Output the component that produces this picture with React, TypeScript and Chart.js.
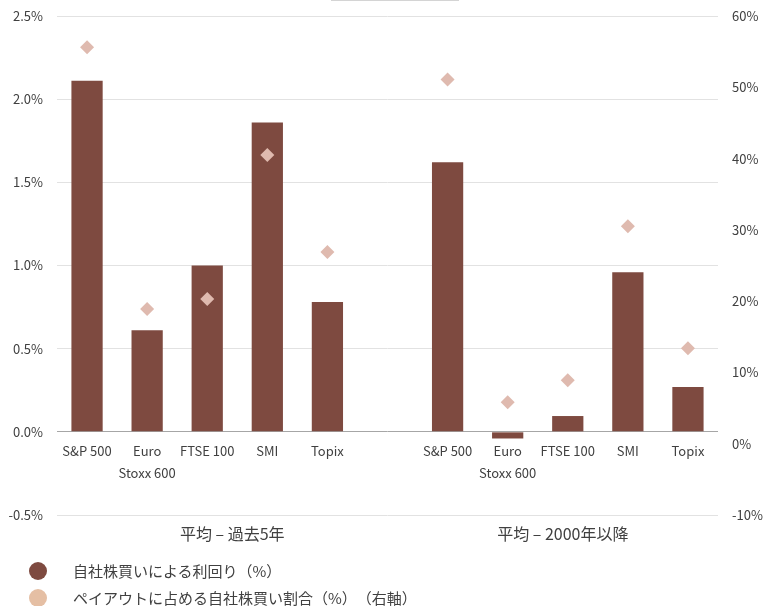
import React, { useEffect, useRef } from "react";
import { Chart, registerables } from "chart.js";

Chart.register(...registerables);

const categories: (string | string[])[] = [
  "S&P 500", ["Euro", "Stoxx 600"], "FTSE 100", "SMI", "Topix", "",
  "S&P 500", ["Euro", "Stoxx 600"], "FTSE 100", "SMI", "Topix",
];
const buybackYield: (number | null)[] = [2.11, 0.61, 1.0, 1.86, 0.78, null, 1.62, -0.04, 0.095, 0.96, 0.27];
const buybackShare: (number | null)[] = [55.6, 18.9, 20.3, 40.5, 26.9, null, 51.1, 5.8, 8.9, 30.5, 13.4];
const groupLabels = ["平均 – 過去5年", "平均 – 2000年以降"];
const groupRanges = [[0, 5], [6, 10]];
const legendLabels = ["自社株買いによる利回り（%）", "ペイアウトに占める自社株買い割合（%）（右軸）"];

const BAR = "#7e4a40";
const DIAMOND = "#dfbaaf";
const LEGEND2 = "#e5bfa4";
const FONT = '"Noto Sans CJK JP", "Noto Sans", sans-serif';
const TEXT = "#404040";

const labelPlugin = {
  id: "customLabels",
  afterDraw(chart: any) {
    const { ctx, scales, chartArea } = chart;
    const x = scales.x;
    const y = scales.y;
    const zeroY = y.getPixelForValue(0);
    ctx.save();
    ctx.fillStyle = TEXT;
    ctx.textAlign = "center";
    ctx.textBaseline = "middle";
    ctx.font = `13px ${FONT}`;
    categories.forEach((c, i) => {
      const lines = Array.isArray(c) ? c : [c];
      lines.forEach((ln, k) => {
        if (ln) ctx.fillText(ln, x.getPixelForValue(i), zeroY + 19 + k * 22);
      });
    });
    ctx.font = `16px ${FONT}`;
    groupLabels.forEach((g, i) => {
      const [a, b] = groupRanges[i];
      const cx = (x.getPixelForValue(a) + x.getPixelForValue(b)) / 2 - 5;
      ctx.fillText(g, cx, chartArea.bottom + 19);
    });
    ctx.restore();
  },
};

export default function App() {
  const ref = useRef<HTMLCanvasElement>(null);
  useEffect(() => {
    if (!ref.current) return;
    const chart = new Chart(ref.current, {
      type: "bar",
      data: {
        labels: categories as any,
        datasets: [
          {
            type: "line",
            label: legendLabels[1],
            data: buybackShare,
            yAxisID: "y1",
            showLine: false,
            pointStyle: "rectRot",
            pointRadius: 7,
            pointBackgroundColor: DIAMOND,
            pointBorderColor: DIAMOND,
            pointBorderWidth: 0,
            backgroundColor: DIAMOND,
            order: 0,
          } as any,
          {
            type: "bar",
            label: legendLabels[0],
            data: buybackYield,
            yAxisID: "y",
            backgroundColor: BAR,
            categoryPercentage: 1,
            barPercentage: 0.52,
            order: 1,
          },
        ],
      },
      options: {
        responsive: false,
        animation: false,
        layout: { autoPadding: false, padding: { top: 16, bottom: 91, left: 0, right: 0 } },
        plugins: { legend: { display: false }, tooltip: { enabled: false } },
        scales: {
          x: { display: false, offset: true, grid: { display: false } },
          y: {
            position: "left",
            min: -0.5,
            max: 2.5,
            border: { display: false },
            grid: {
              drawTicks: true,
              tickLength: 14,
              tickColor: "rgba(0,0,0,0)",
              color: (c: any) => (c.tick && c.tick.value === 0 ? "#a6a6a6" : "#e2e2e2"),
            },
            ticks: {
              stepSize: 0.5,
              padding: 0,
              color: TEXT,
              font: { family: FONT, size: 13 },
              callback: (v: any) => Number(v).toFixed(1) + "%",
            },
            afterFit: (s: any) => { s.width = 57; },
          },
          y1: {
            position: "right",
            min: -10,
            max: 60,
            border: { display: false },
            grid: { display: false, drawTicks: true, tickLength: 14, tickColor: "rgba(0,0,0,0)" },
            ticks: {
              stepSize: 10,
              padding: 0,
              color: TEXT,
              font: { family: FONT, size: 13 },
              callback: (v: any) => v + "%",
            },
            afterFit: (s: any) => { s.width = 45; },
          },
        },
      },
      plugins: [labelPlugin],
    });
    return () => chart.destroy();
  }, []);
  const legendColors = [BAR, LEGEND2];
  return (
    <div style={{ position: "fixed", left: 0, top: 0, width: 763, height: 606, background: "#fff", overflow: "hidden" }}>
      <div style={{ position: "absolute", left: 331, top: 0, width: 128, height: 0, borderTop: "1px solid #d4d4d4" }} />
      <canvas ref={ref} width={763} height={606} style={{ display: "block" }} />
      {legendLabels.map((l, i) => (
        <div
          key={i}
          style={{
            position: "absolute",
            left: 29,
            top: 562 + i * 27,
            height: 18,
            display: "flex",
            alignItems: "center",
            fontFamily: FONT,
            fontSize: 15,
            lineHeight: "18px",
            color: TEXT,
            whiteSpace: "nowrap",
            ["textSpacingTrim" as any]: "space-all",
          }}
        >
          <span style={{ width: 18, height: 18, borderRadius: 9, background: legendColors[i], display: "inline-block", marginRight: 26, flex: "none" }} />
          <span>{l}</span>
        </div>
      ))}
    </div>
  );
}
